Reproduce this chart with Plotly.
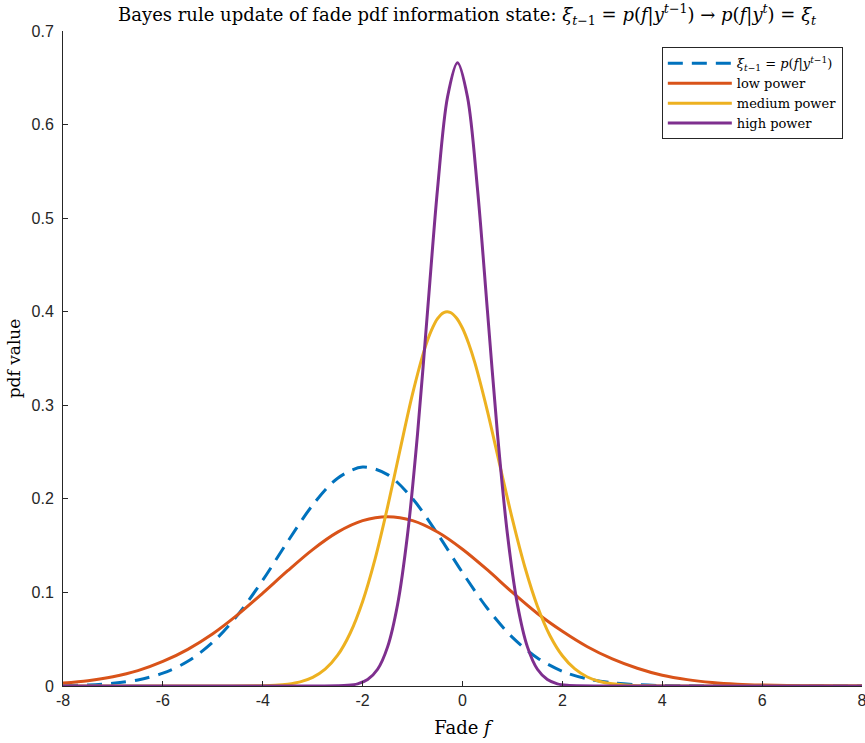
import plotly.graph_objects as go

# ---- data ----
prior_x = [-8, -7.5, -7, -6.5, -6, -5.5, -5, -4.5, -4, -3.5, -3, -2.5, -2, -1.5, -1, -0.5,
           0, 0.5, 1, 1.5, 2, 2.5, 3, 3.5, 4, 4.5, 5, 6, 7, 8]
prior_y = [0.0004, 0.0011, 0.0029, 0.0065, 0.0137, 0.0264, 0.0468, 0.0760, 0.1131, 0.1544,
           0.1934, 0.2221, 0.2340, 0.2259, 0.2002, 0.1626, 0.1212, 0.0828, 0.0519, 0.0299,
           0.0157, 0.0076, 0.0034, 0.0014, 0.0005, 0.0002, 0.0001, 0.0, 0.0, 0.0]

low_x = [-8, -7.5, -7, -6.5, -6, -5.5, -5, -4.5, -4, -3.5, -3, -2.5, -2, -1.5, -1, -0.5,
         0, 0.5, 1, 1.5, 2, 2.5, 3, 3.5, 4, 4.5, 5, 5.5, 6, 6.5, 7, 7.5, 8]
low_y = [0.0031, 0.0057, 0.0099, 0.0164, 0.0262, 0.0392, 0.0558, 0.0762, 0.0992, 0.1232,
         0.1458, 0.1644, 0.1767, 0.1810, 0.1768, 0.1646, 0.1462, 0.1240, 0.1000, 0.0775,
         0.0585, 0.0420, 0.0290, 0.0190, 0.0115, 0.0068, 0.0038, 0.0020, 0.0010, 0.0005,
         0.0002, 0.0001, 0.0]

med_x = [-8, -6, -5, -4, -3.75, -3.5, -3.25, -3, -2.75, -2.5, -2.25, -2, -1.75, -1.5, -1.25,
         -1, -0.75, -0.625, -0.5, -0.375, -0.25, -0.125, 0, 0.125, 0.25, 0.5, 0.75, 1,
         1.25, 1.5, 1.75, 2, 2.25, 2.5, 2.75, 3, 3.25, 3.5, 3.75, 4, 5, 6, 8]
med_y = [0.0, 0.0, 0.0, 0.0003, 0.0008, 0.0020, 0.0044, 0.0092, 0.0180, 0.0329, 0.0564,
         0.0904, 0.1359, 0.1914, 0.2525, 0.3122, 0.3616, 0.3798, 0.3926, 0.3991, 0.3993,
         0.3936, 0.3823, 0.3658, 0.3450, 0.2935, 0.2354, 0.1780, 0.1269, 0.0853, 0.0540,
         0.0323, 0.0182, 0.0096, 0.0048, 0.0023, 0.0010, 0.0004, 0.0002, 0.0001, 0.0,
         0.0, 0.0]

high_x = [-8, -5, -4, -3, -2.5, -2.3, -2.1, -1.9, -1.7, -1.5, -1.3, -1.1, -0.9, -0.7, -0.5,
          -0.3, -0.1, 0.1, 0.3, 0.5, 0.7, 0.9, 1.1, 1.3, 1.5, 1.7, 1.9, 2.1, 2.3, 3, 4, 5, 8]
high_y = [0.0, 0.0, 0.0, 0.0, 0.0002, 0.0007, 0.0023, 0.0069, 0.0179, 0.0418, 0.0871,
          0.1622, 0.2697, 0.4005, 0.5313, 0.6294, 0.6660, 0.6294, 0.5313, 0.4005, 0.2697,
          0.1622, 0.0871, 0.0418, 0.0179, 0.0069, 0.0023, 0.0007, 0.0002, 0.0, 0.0, 0.0, 0.0]

x_ticks = [-8, -6, -4, -2, 0, 2, 4, 6, 8]
x_tick_labels = ["-8", "-6", "-4", "-2", "0", "2", "4", "6", "8"]
y_ticks = [0, 0.1, 0.2, 0.3, 0.4, 0.5, 0.6, 0.7]
y_tick_labels = ["0", "0.1", "0.2", "0.3", "0.4", "0.5", "0.6", "0.7"]

names = ["<i>ξ</i><sub><i>t</i>−1</sub> = <i>p</i>(<i>f</i>|<i>y</i><sup><i>t</i>−1</sup>)",
         "low power", "medium power", "high power"]
colors = ["#0072BD", "#D95319", "#EDB120", "#7E2F8E"]

SERIF = "DejaVu Serif, Liberation Serif, serif"
SANS = "Liberation Sans, Arial, Helvetica, sans-serif"

fig = go.Figure()
series = [(prior_x, prior_y), (low_x, low_y), (med_x, med_y), (high_x, high_y)]
for i, (xs, ys) in enumerate(series):
    fig.add_trace(go.Scatter(
        x=xs, y=ys, mode="lines", name=names[i],
        line=dict(color=colors[i], width=3, shape="spline", smoothing=0.9,
                  dash="15px,9px" if i == 0 else "solid"),
    ))

fig.update_layout(
    width=865, height=743,
    margin=dict(l=63, r=3, t=31, b=57, autoexpand=False),
    paper_bgcolor="white", plot_bgcolor="white",
    title=dict(
        text="Bayes rule update of fade pdf information state: "
             "<i>ξ</i><sub><i>t</i>−1</sub> = <i>p</i>(<i>f</i>|<i>y</i><sup><i>t</i>−1</sup>) → "
             "<i>p</i>(<i>f</i>|<i>y</i><sup><i>t</i></sup>) = <i>ξ</i><sub><i>t</i></sub>",
        x=0.540, xanchor="center", y=0.989, yanchor="top", automargin=False,
        font=dict(family=SERIF, size=18, color="#000000"),
    ),
    showlegend=True,
    legend=dict(
        x=0.976, xanchor="right", y=0.975, yanchor="top",
        bgcolor="white", bordercolor="#262626", borderwidth=1,
        font=dict(family=SERIF, size=13, color="#000000"),
        tracegroupgap=0, itemwidth=64,
    ),
    xaxis=dict(
        range=[-8, 8], tickvals=x_ticks, ticktext=x_tick_labels, automargin=False,
        showgrid=False, zeroline=False, showline=True, linecolor="#262626", linewidth=1,
        ticks="inside", ticklen=5, tickcolor="#262626", mirror=False,
        ticklabeloverflow="allow",
        tickfont=dict(family=SANS, size=16, color="#262626"),
        title=dict(text="Fade <i>f</i>", font=dict(family=SERIF, size=18, color="#000000"),
                   standoff=13),
    ),
    yaxis=dict(
        range=[0, 0.7], tickvals=y_ticks, ticktext=y_tick_labels, automargin=False,
        showgrid=False, zeroline=False, showline=True, linecolor="#262626", linewidth=1,
        ticks="inside", ticklen=5, tickcolor="#262626", mirror=False,
        ticklabeloverflow="allow",
        tickfont=dict(family=SANS, size=16, color="#262626"),
        ticklabelstandoff=5,
        title=dict(text="pdf value", font=dict(family=SERIF, size=17, color="#000000"),
                   standoff=6),
    ),
)

fig.write_html("out.html", config={"displayModeBar": False},
               post_script="document.body.style.margin='0';")
